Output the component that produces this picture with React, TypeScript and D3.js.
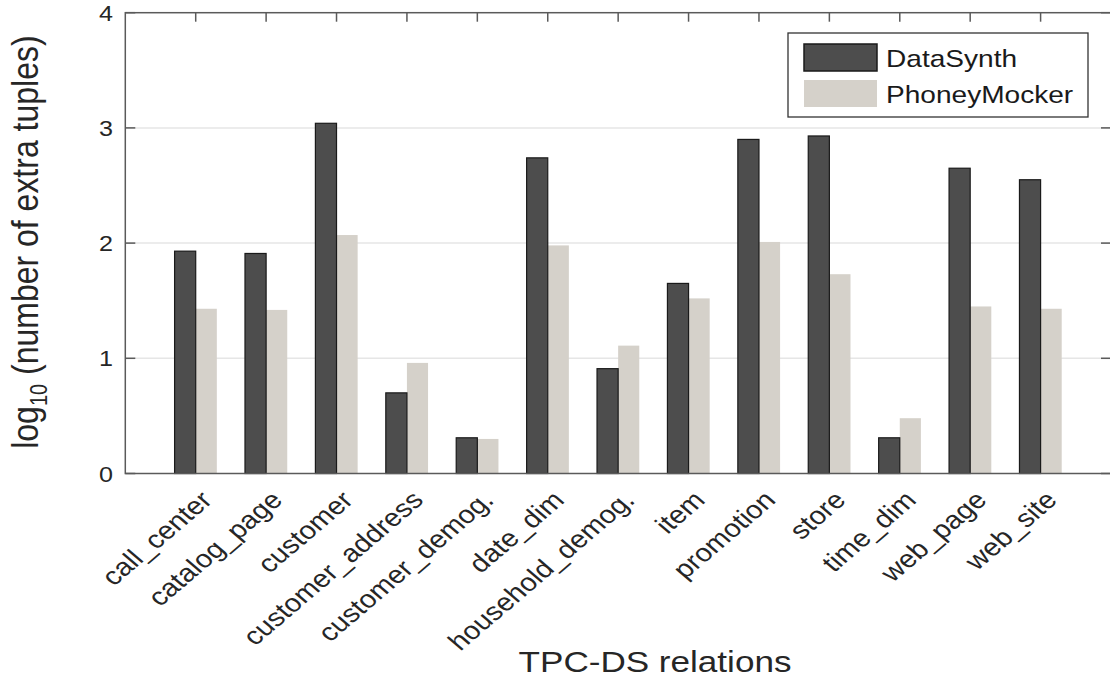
import React, { useRef, useEffect } from "react";
import * as d3 from "d3";

const relations = [
  "call_center", "catalog_page", "customer", "customer_address", "customer_demog.",
  "date_dim", "household_demog.", "item", "promotion", "store", "time_dim", "web_page", "web_site",
];
const dataSynth = [1.93, 1.91, 3.04, 0.70, 0.31, 2.74, 0.91, 1.65, 2.90, 2.93, 0.31, 2.65, 2.55];
const phoneyMocker = [1.43, 1.42, 2.07, 0.96, 0.30, 1.98, 1.11, 1.52, 2.01, 1.73, 0.48, 1.45, 1.43];
const yTicks = [0, 1, 2, 3, 4];
const seriesNames = ["DataSynth", "PhoneyMocker"];

const FONT = "'Liberation Sans', Arial, sans-serif";
const DARK = "#4d4d4d";
const LIGHT = "#d5d1ca";
const SX = 1.17; // the figure is stretched horizontally, so is its text

export default function App() {
  const svgRef = useRef<SVGSVGElement>(null);

  useEffect(() => {
    const svg = d3.select(svgRef.current);
    svg.selectAll("*").remove();

    const left = 125.3, right = 1111, top = 12.7, bottom = 473.5;

    // categories at 1..13, xlim [0, 14]
    const x = d3.scaleLinear().domain([0, 14]).range([left, right]);
    const y = d3.scaleLinear().domain([0, 4]).range([bottom, top]);
    const barW = (x(1) - x(0)) * 0.3;

    const g = svg.append("g");

    // grid
    g.selectAll(".grid")
      .data(yTicks.filter(t => t > 0 && t < 4))
      .enter().append("line")
      .attr("x1", left).attr("x2", right)
      .attr("y1", d => y(d)).attr("y2", d => y(d))
      .attr("stroke", "#e6e6e6").attr("stroke-width", 1.5);

    // bars
    const idx = d3.range(relations.length);
    g.selectAll(".light")
      .data(idx)
      .enter().append("rect")
      .attr("x", i => x(i + 1))
      .attr("y", i => y(phoneyMocker[i]))
      .attr("width", barW)
      .attr("height", i => y(0) - y(phoneyMocker[i]))
      .attr("fill", LIGHT);

    g.selectAll(".dark")
      .data(idx)
      .enter().append("rect")
      .attr("x", i => x(i + 1) - barW)
      .attr("y", i => y(dataSynth[i]))
      .attr("width", barW)
      .attr("height", i => y(0) - y(dataSynth[i]))
      .attr("fill", DARK)
      .attr("stroke", "#1a1a1a").attr("stroke-width", 1.2);

    // axes box
    g.append("rect")
      .attr("x", left).attr("y", top)
      .attr("width", right - left).attr("height", bottom - top)
      .attr("fill", "none").attr("stroke", "#5a5a5a").attr("stroke-width", 1.5);

    // top ticks (inward)
    g.selectAll(".tt")
      .data(idx)
      .enter().append("line")
      .attr("x1", i => x(i + 1)).attr("x2", i => x(i + 1))
      .attr("y1", top).attr("y2", top + 9)
      .attr("stroke", "#5a5a5a").attr("stroke-width", 1.5);

    const txt = (tx: number, ty: number, rot: number, size: number, s: string, anchor = "start") =>
      g.append("text")
        .attr("transform", `translate(${tx},${ty}) scale(${SX},1) rotate(${rot})`)
        .attr("text-anchor", anchor)
        .attr("font-family", FONT).attr("font-size", size)
        .attr("fill", "#262626")
        .text(s);

    // y ticks left and right
    yTicks.forEach(t => {
      g.append("line").attr("x1", left).attr("x2", left + 10)
        .attr("y1", y(t)).attr("y2", y(t)).attr("stroke", "#5a5a5a").attr("stroke-width", 1.5);
      g.append("line").attr("x1", right - 10).attr("x2", right)
        .attr("y1", y(t)).attr("y2", y(t)).attr("stroke", "#5a5a5a").attr("stroke-width", 1.5);
      txt(113, y(t) + 8, 0, 21.5, String(t), "end");
    });

    // x tick labels rotated
    relations.forEach((r, i) => {
      txt(x(i + 1) + 18, bottom + 28, -45, 25, r, "end");
    });

    // x label
    txt(655, 672, 0, 30, "TPC-DS relations", "middle");

    // y label
    const yl = txt(38, (top + bottom) / 2 - 1, -90, 32, "", "middle");
    yl.append("tspan").text("log");
    yl.append("tspan").attr("font-size", 20).attr("dy", 8).text("10");
    yl.append("tspan").attr("dy", -8).text(" (number of extra tuples)");

    // legend
    const lg = g.append("g");
    lg.append("rect")
      .attr("x", 788).attr("y", 33).attr("width", 300).attr("height", 84)
      .attr("fill", "#fff").attr("stroke", "#333").attr("stroke-width", 1.3);
    const colors = [DARK, LIGHT];
    seriesNames.forEach((n, i) => {
      const yy = 44 + i * 36;
      lg.append("rect")
        .attr("x", 804).attr("y", yy).attr("width", 73).attr("height", 27)
        .attr("fill", colors[i])
        .attr("stroke", i === 0 ? "#1a1a1a" : "none").attr("stroke-width", 1.5);
      lg.append("text")
        .attr("transform", `translate(886,${yy + 23}) scale(${SX},1)`)
        .attr("font-family", FONT).attr("font-size", 24)
        .attr("fill", "#1a1a1a")
        .text(n);
    });
  }, []);

  return (
    <svg ref={svgRef} width={1110} height={677}
      style={{ position: "absolute", left: 0, top: 0, background: "#fff" }} />
  );
}
